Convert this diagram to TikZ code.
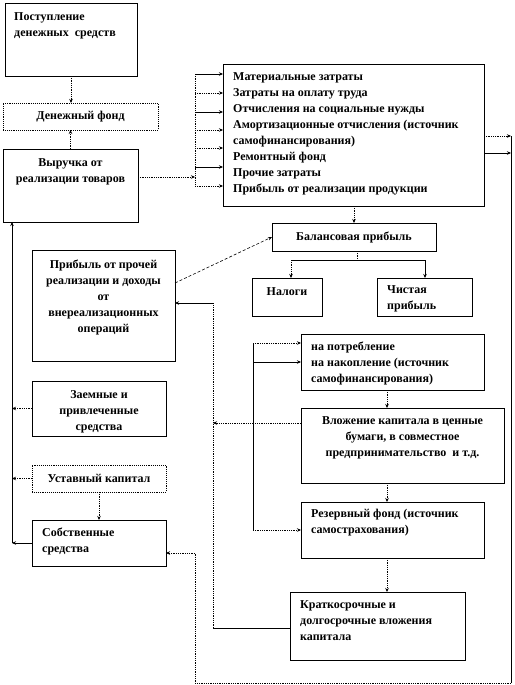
\documentclass[tikz,border=0pt]{standalone}
\usepackage{fontspec}
\setmainfont{Liberation Serif}
\usetikzlibrary{arrows.meta,calc}
\begin{document}
\begin{tikzpicture}[x=1pt,y=-1pt,
  box/.style={draw, line width=0.9pt, inner sep=0pt, outer sep=0pt, anchor=north west},
  dbox/.style={box, densely dotted},
  txt/.style={font=\fontsize{12}{16}\selectfont\bfseries, inner sep=0pt, align=left},
  ctxt/.style={txt, align=center},
  con/.style={line width=0.8pt},
  dcon/.style={line width=0.8pt, densely dotted},
  arr/.style={-{Stealth[length=4pt,width=3.5pt]}}]
\useasboundingbox (0,0) rectangle (514,685);
% boxes
\node[box, minimum width=132, minimum height=73] (b1) at (5,3) {};
\node[dbox, minimum width=155, minimum height=27] (b2) at (3,103) {};
\node[box, minimum width=135, minimum height=73] (b3) at (3,149) {};
\node[box, minimum width=261, minimum height=142] (b4) at (223,64) {};
\node[box, minimum width=164, minimum height=28] (b5) at (272,223) {};
\node[box, minimum width=70, minimum height=38] (b6) at (252,278) {};
\node[box, minimum width=95, minimum height=38] (b7) at (377,278) {};
\node[box, minimum width=143, minimum height=111] (b8) at (32,250) {};
\node[box, minimum width=183, minimum height=56] (b9) at (301,334) {};
\node[box, minimum width=203, minimum height=75] (b10) at (301,408) {};
\node[box, minimum width=134, minimum height=55] (b11) at (32,381) {};
\node[dbox, minimum width=134, minimum height=27] (b12) at (32,465) {};
\node[box, minimum width=134, minimum height=46] (b13) at (32,520) {};
\node[box, minimum width=183, minimum height=56] (b14) at (301,502) {};
\node[box, minimum width=175, minimum height=68] (b15) at (290,592) {};
% texts
\node[txt, anchor=north west] (t1) at ([xshift=9pt,yshift=-9pt]b1.north west) {Поступление\\денежных\ \ средств};
\node[ctxt] (t2) at (b2.center) {Денежный фонд};
\node[ctxt, anchor=north] (t3) at ([yshift=-9pt]b3.north) {Выручка от\\реализации товаров};
\node[txt, anchor=north west] (t4) at ([xshift=10pt,yshift=-8pt]b4.north west) {Материальные затраты\\Затраты на оплату труда\\Отчисления на социальные нужды\\Амортизационные отчисления (источник\\самофинансирования)\\Ремонтный фонд\\Прочие затраты\\Прибыль от реализации продукции};
\node[ctxt] (t5) at (b5.center) {Балансовая прибыль};
\node[ctxt, anchor=north] (t6) at ([yshift=-9pt]b6.north) {Налоги};
\node[txt, anchor=north west] (t7) at ([xshift=10pt,yshift=-7pt]b7.north west) {Чистая\\прибыль};
\node[ctxt, anchor=north] (t8) at ([yshift=-10pt]b8.north) {Прибыль от прочей\\реализации и доходы\\от\\внереализационных\\операций};
\node[txt, anchor=north west] (t9) at ([xshift=10pt,yshift=-8pt]b9.north west) {на потребление\\на накопление (источник\\самофинансирования)};
\node[ctxt, anchor=north] (t10) at ([yshift=-8pt]b10.north) {Вложение капитала в ценные\\бумаги, в совместное\\предпринимательство\ \ и т.д.};
\node[ctxt, anchor=north] (t11) at ([yshift=-9pt]b11.north) {Заемные и\\привлеченные\\средства};
\node[ctxt] (t12) at (b12.center) {Уставный капитал};
\node[txt, anchor=north west] (t13) at ([xshift=10pt,yshift=-8pt]b13.north west) {Собственные\\средства};
\node[txt, anchor=north west] (t14) at ([xshift=10pt,yshift=-7pt]b14.north west) {Резервный фонд (источник\\самострахования)};
\node[txt, anchor=north west] (t15) at ([xshift=10pt,yshift=-8pt]b15.north west) {Краткосрочные и\\долгосрочные вложения\\капитала};
% coordinates
\coordinate (busL) at (195,74);
\coordinate (busLb) at (195,186);
\coordinate (inL) at (195,177);
\coordinate (xr) at (511,136);
\coordinate (xrb) at (511,683);
\coordinate (xlb) at (195,683);
\coordinate (xl) at (195,553);
\coordinate (sp) at (357,260);
\coordinate (spl) at (291,260);
\coordinate (spr) at (425,260);
\coordinate (mb) at (253,343);
\coordinate (mbb) at (253,530);
\coordinate (vx) at (213,628);
\coordinate (vxt) at (213,303);
\coordinate (lb) at (12,543);
\coordinate (cx) at (387,0);
% top connectors
\draw[dcon,arr] (b1.south) -- (b1.south |- b2.north);
\draw[dcon,arr] (b3.north) -- (b3.north |- b2.south);
\draw[dcon,arr] (b3.east |- inL) -- (inL);
\draw[dcon] (busL) -- (busLb);
\draw[con,arr] (busL) -- (busL -| b4.west);
\draw[dcon,arr] (195,93) -- (223,93);
\draw[con,arr] (195,112) -- (223,112);
\draw[dcon,arr] (195,130) -- (223,130);
\draw[dcon,arr] (195,148) -- (223,148);
\draw[con,arr] (195,167) -- (223,167);
\draw[dcon,arr] (busLb) -- (busLb -| b4.west);
% right bus
\draw[dcon,arr] (xr -| b4.east) -- (xr);
\draw[con,arr] (b4.east |- 0,153) -- (511,153);
\draw[con] (xr) -- (xrb);
\draw[dcon] (xrb) -- (xlb) -- (xl);
\draw[dcon,arr] (xl) -- (xl -| b13.east);
% balance
\draw[dcon,arr] (b5.north |- b4.south) -- (b5.north);
\draw[dcon] (sp |- b5.south) -- (sp);
\draw[con] (spl) -- (spr);
\draw[dcon,arr] (spl) -- (spl |- b6.north);
\draw[con,arr] (spr) -- (spr |- b7.north);
\draw[line width=0.6pt, densely dashed, arr] (b8.east |- 0,283) -- (b5.west);
% middle bus
\draw[con] (mb) -- (mbb);
\draw[dcon,arr] (mb) -- (mb -| b9.west);
\draw[con,arr] (253,362) -- (b9.west |- 0,362);
\draw[dcon,arr] (mbb) -- (mbb -| b14.west);
% chain
\draw[dcon,arr] (b9.south -| cx) -- (b10.north -| cx);
\draw[dcon,arr] (b10.south -| cx) -- (b14.north -| cx);
\draw[dcon,arr] (b14.south -| cx) -- (b15.north -| cx);
\draw[dcon,arr] (b10.west |- 0,423) -- (213,423);
\draw[con] (b15.west |- vx) -- (vx);
\draw[dcon] (vx) -- (vxt);
\draw[con,arr] (vxt) -- (vxt -| b8.east);
% left bus
\draw[con,arr] (lb) -- (lb |- b3.south);
\draw[dcon,arr] (b11.west) -- (b11.west -| lb);
\draw[dcon,arr] (b12.west) -- (b12.west -| lb);
\draw[con,arr] (b13.west) -- (b13.west -| lb);
\draw[dcon,arr] (b12.south) -- (b12.south |- b13.north);
\end{tikzpicture}
\end{document}
